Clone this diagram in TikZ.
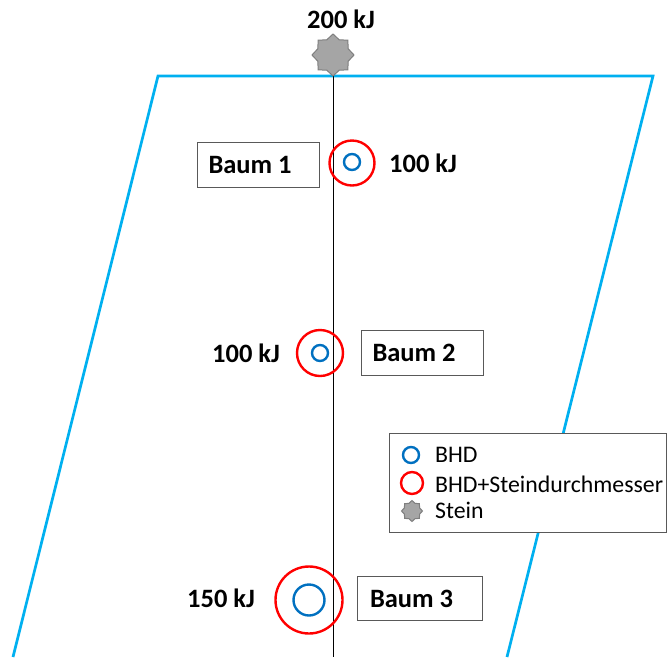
\documentclass[tikz,border=0pt]{standalone}
\usepackage{fontspec}
\setmainfont{Carlito}
\usetikzlibrary{shapes.geometric}
\definecolor{lblue}{HTML}{00B0F0}
\definecolor{cblue}{HTML}{0070C0}
\definecolor{cred}{HTML}{FF0000}
\definecolor{sfill}{HTML}{A5A5A5}
\definecolor{sdraw}{HTML}{7F7F7F}
\definecolor{bdraw}{HTML}{595959}
\tikzset{
  lbl/.style={inner sep=0pt, anchor=base west, font=\fontsize{26.5}{30}\selectfont\bfseries},
  legtxt/.style={inner sep=0pt, anchor=base west, font=\fontsize{23.8}{27}\selectfont},
  baumbox/.style={draw=bdraw, line width=1pt, fill=white, anchor=north west, text width=100pt, align=left, inner xsep=11pt, minimum height=45pt, font=\fontsize{26.5}{30}\selectfont\bfseries},
  bhd/.style={draw=cblue, line width=2.4pt, circle, inner sep=0pt},
  bhdst/.style={draw=cred, line width=2.4pt, circle, inner sep=0pt},
  stein/.style={star, star points=8, star point ratio=1.28, fill=sfill, draw=sdraw, line width=1pt, inner sep=0pt},
  slope/.style={draw=lblue, line width=2.7pt},
}
\begin{document}
\begin{tikzpicture}[x=1pt,y=-1pt]
\useasboundingbox (0,0) rectangle (667,657);
% slope outline
\coordinate (pl) at (13,657);
\coordinate (tl) at (158,76);
\coordinate (tr) at (653,76);
\coordinate (pr) at (507,657);
\draw[slope] (pl) -- (tl) -- (tr) -- (pr);
% fall line
\coordinate (vt) at (333,73);
\coordinate (vb) at (333,657);
\draw[line width=0.9pt] (vt) -- (vb);
% stone
\node[stein, minimum size=42pt] (st) at (333,55) {};
\node[lbl] (e0) at (307,28) {200 kJ};
% tree 1
\node[bhdst, minimum size=45pt] (r1) at (352,163) {};
\node[bhd, minimum size=16pt] (b1) at (352,162) {};
\node[baumbox] (t1) at (197,142) {Baum\hspace{-3pt} 1};
\node[lbl] (e1) at (389,172) {100 kJ};
% tree 2
\node[bhdst, minimum size=46pt] (r2) at (320,353) {};
\node[bhd, minimum size=16pt] (b2) at (320,353) {};
\node[baumbox] (t2) at (361,330) {Baum\hspace{-3pt} 2};
\node[lbl] (e2) at (212,362) {100 kJ};
% tree 3
\node[bhdst, minimum size=67pt] (r3) at (309,600) {};
\node[bhd, minimum size=31pt] (b3) at (309,600) {};
\node[baumbox, minimum height=44pt, inner xsep=12.5pt, text width=100pt] (t3) at (357,576) {Baum\hspace{-3pt} 3};
\node[lbl] (e3) at (187,607) {150 kJ};
% legend
\node[draw=bdraw, line width=1pt, fill=white, anchor=north west, minimum width=277pt, minimum height=99pt, inner sep=0pt] (leg) at (389,433) {};
\node[bhd, minimum size=16pt] (lb) at (411,455) {};
\node[legtxt] (lbt) at (435,462) {BHD};
\node[bhdst, minimum size=22pt] (lr) at (412,483) {};
\node[legtxt] (lrt) at (435,492) {BHD+Steindurchmesser};
\node[stein, minimum size=21pt] (ls) at (412,511) {};
\node[legtxt] (lst) at (435,518) {Stein};
\end{tikzpicture}
\end{document}
